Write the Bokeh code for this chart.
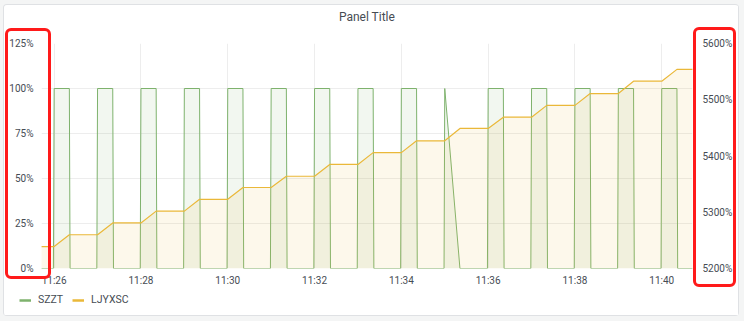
import pandas as pd
from bokeh.plotting import figure
from bokeh.layouts import column, row
from bokeh.models import (Range1d, LinearAxis, FixedTicker, PrintfTickFormatter,
                          DatetimeTickFormatter, Legend, LegendItem, ColumnDataSource,
                          Title)
from bokeh.embed import file_html
from bokeh.resources import INLINE

# ---------------- data ----------------
DAY = "2021-06-01 "
x_start = "11:25:42.5"
x_end = "11:40:42.5"
x_ticks = ["11:26", "11:28", "11:30", "11:32", "11:34", "11:36", "11:38", "11:40"]

left_ticks = [0, 25, 50, 75, 100, 125]
right_ticks = [5200, 5300, 5400, 5500, 5600]

szzt_time = [
    "11:25:42",
    "11:25:59", "11:26:00", "11:26:21", "11:26:22",
    "11:26:59", "11:27:00", "11:27:21", "11:27:22",
    "11:27:59", "11:28:00", "11:28:21", "11:28:22",
    "11:28:59", "11:29:00", "11:29:21", "11:29:22",
    "11:29:59", "11:30:00", "11:30:21", "11:30:22",
    "11:30:59", "11:31:00", "11:31:21", "11:31:22",
    "11:31:59", "11:32:00", "11:32:21", "11:32:22",
    "11:32:59", "11:33:00", "11:33:21", "11:33:22",
    "11:33:59", "11:34:00", "11:34:21", "11:34:22",
    "11:34:59", "11:35:00", "11:35:21",
    "11:35:59", "11:36:00", "11:36:21", "11:36:22",
    "11:36:59", "11:37:00", "11:37:21", "11:37:22",
    "11:37:59", "11:38:00", "11:38:21", "11:38:22",
    "11:38:59", "11:39:00", "11:39:21", "11:39:22",
    "11:39:59", "11:40:00", "11:40:21", "11:40:22",
    "11:40:43",
]
szzt_value = [
    0,
    0, 100, 100, 0,
    0, 100, 100, 0,
    0, 100, 100, 0,
    0, 100, 100, 0,
    0, 100, 100, 0,
    0, 100, 100, 0,
    0, 100, 100, 0,
    0, 100, 100, 0,
    0, 100, 100, 0,
    0, 100, 0,
    0, 100, 100, 0,
    0, 100, 100, 0,
    0, 100, 100, 0,
    0, 100, 100, 0,
    0, 100, 100, 0,
    0,
]

ljyxsc_time = [
    "11:25:42",
    "11:26:00", "11:26:21", "11:27:00", "11:27:21", "11:28:00", "11:28:21",
    "11:29:00", "11:29:21", "11:30:00", "11:30:21", "11:31:00", "11:31:21",
    "11:32:00", "11:32:21", "11:33:00", "11:33:21", "11:34:00", "11:34:21",
    "11:35:00", "11:35:21", "11:36:00", "11:36:21", "11:37:00", "11:37:21",
    "11:38:00", "11:38:21", "11:39:00", "11:39:21", "11:40:00", "11:40:21",
    "11:40:43",
]
ljyxsc_value = [
    5239,
    5239, 5260, 5260, 5281, 5281, 5302,
    5302, 5323, 5323, 5344, 5344, 5364,
    5364, 5385, 5385, 5406, 5406, 5427,
    5427, 5449, 5449, 5469, 5469, 5490,
    5490, 5511, 5511, 5533, 5533, 5554,
    5554,
]

series_names = ["SZZT", "LJYXSC"]
title_text = "Panel Title"

# ---------------- style ----------------
GREEN = "#7eb26d"
YELLOW = "#eab839"
TEXT = "#464c54"
GRID = "#ededed"
FONT = "Roboto"
PAGE_BG = "#f4f5f5"
NAN = float("nan")


def ms(t):
    return pd.Timestamp(DAY + t).value / 1e6


p = figure(width=734, height=288, output_backend="svg", toolbar_location=None,
           x_range=Range1d(ms(x_start), ms(x_end)), y_range=Range1d(0, 125),
           x_axis_type="datetime",
           min_border_left=37, min_border_right=46, min_border_top=38, min_border_bottom=25)
p.extra_y_ranges = {"right": Range1d(5200, 5600)}

p.border_fill_color = "white"
p.background_fill_color = "white"
p.outline_line_color = None

# title (a blank spacer title sits between the real title and the frame)
spacer = Title(text=" ", standoff=4, text_font=FONT, text_font_size="12px")
p.add_layout(spacer, "above")
p.title.text = title_text
p.title.align = "center"
p.title.text_font = FONT
p.title.text_font_size = "12px"
p.title.text_font_style = "normal"
p.title.text_color = TEXT
p.title.standoff = 0

# data
s_src = ColumnDataSource(dict(x=[ms(t) for t in szzt_time], y=szzt_value))
l_src = ColumnDataSource(dict(x=[ms(t) for t in ljyxsc_time], y=ljyxsc_value))

p.varea(x="x", y1=0, y2="y", source=s_src, fill_color=GREEN, fill_alpha=0.1)
p.line(x="x", y="y", source=s_src, line_color=GREEN, line_width=1)
p.varea(x="x", y1=5200, y2="y", source=l_src, fill_color=YELLOW, fill_alpha=0.1,
        y_range_name="right")
p.line(x="x", y="y", source=l_src, line_color=YELLOW, line_width=1.2, y_range_name="right")

# axes
xa = p.xaxis[0]
xa.ticker = FixedTicker(ticks=[ms(t) for t in x_ticks])
fmt = "%H:%M"
xa.formatter = DatetimeTickFormatter(seconds=fmt, minsec=fmt, minutes=fmt, hourmin=fmt,
                                     hours=fmt, days=fmt, months=fmt, years=fmt)
ya = p.yaxis[0]
ya.ticker = FixedTicker(ticks=left_ticks)
ya.formatter = PrintfTickFormatter(format="%d%%")
ra = LinearAxis(y_range_name="right", ticker=FixedTicker(ticks=right_ticks),
                formatter=PrintfTickFormatter(format="%d%%"))
p.add_layout(ra, "right")

for ax in (xa, ya, ra):
    ax.axis_line_color = None
    ax.major_tick_line_color = None
    ax.minor_tick_line_color = None
    ax.major_label_text_font = FONT
    ax.major_label_text_font_size = "10px"
    ax.major_label_text_color = TEXT
xa.major_label_standoff = 0
ya.major_label_standoff = 2
ra.major_label_standoff = 4

p.xgrid.grid_line_color = GRID
p.ygrid.grid_line_color = GRID
p.xgrid.ticker = xa.ticker
p.ygrid.ticker = ya.ticker

# red highlight boxes around both value axes (drawn over the figure)
box_css = ("content: ''; position: absolute; box-sizing: border-box; "
           "border: 3.3px solid #ff1a1a; border-radius: 6px; z-index: 1000; "
           "pointer-events: none;")
p.stylesheets = [
    ":host::before {" + box_css + " left: 1px; top: 23px; width: 46px; height: 251px; }",
    ":host::after {" + box_css + " left: 689px; top: 22px; width: 43px; height: 260px; }",
]

# legend strip below the chart
lf = figure(width=734, height=22, output_backend="svg", toolbar_location=None,
            x_range=Range1d(0, 1), y_range=Range1d(0, 1),
            x_axis_location=None, y_axis_location=None,
            min_border=0, min_border_left=0, min_border_right=0,
            min_border_top=0, min_border_bottom=0)
if "frame_align" in lf.properties():
    lf.frame_align = False
    p.frame_align = False
lf.grid.visible = False
lf.outline_line_color = None
lf.border_fill_color = "white"
lf.background_fill_color = "white"
g_proxy = lf.line(x=[NAN], y=[NAN], line_color=GREEN, line_width=2.5)
y_proxy = lf.line(x=[NAN], y=[NAN], line_color=YELLOW, line_width=2.5)
legend = Legend(items=[LegendItem(label=series_names[0], renderers=[g_proxy]),
                       LegendItem(label=series_names[1], renderers=[y_proxy])],
                orientation="horizontal", location=(15, 9), padding=0, margin=0,
                spacing=9, label_standoff=7, glyph_width=12, glyph_height=12,
                label_height=12, label_text_font=FONT, label_text_font_size="10.5px",
                label_text_color=TEXT, border_line_color=None, background_fill_alpha=0)
lf.add_layout(legend)

card = column(p, row(lf), spacing=0, margin=(5, 6, 6, 4),
              styles={"box-shadow": "0 0 0 1px #dfe1e4", "border-radius": "3px",
                      "background-color": "white"})
root = column(card, styles={"background-color": PAGE_BG})

open("out.html", "w").write(file_html(root, INLINE))
